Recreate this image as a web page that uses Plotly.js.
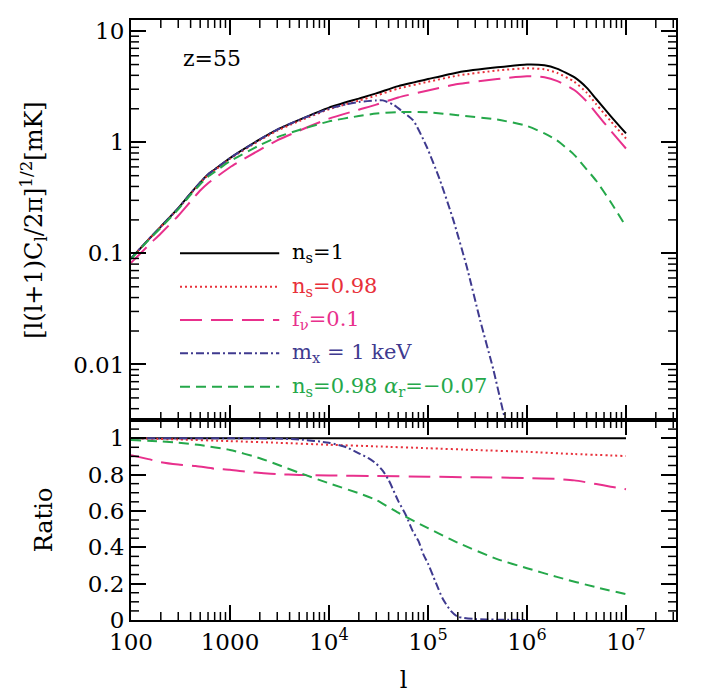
<!DOCTYPE html>
<html><head><meta charset="utf-8">
<script src="https://cdn.plot.ly/plotly-3.0.1.min.js"></script>
<style>html,body{margin:0;padding:0;background:#fff}#plot{width:707px;height:700px}</style>
</head><body><div id="plot"></div>
<script>
// ---- data ----
const lMain = [100,150,200,300,400,500,600,700,1000,2000,3000,5000,1e4,2e4,3e4,5e4,1e5,2e5,5e5,1e6,1.5e6,2e6,3e6,4e6,5e6,7e6,1e7];
const cBlack = [0.09,0.133,0.174,0.255,0.346,0.435,0.513,0.568,0.72,1.06,1.3,1.59,2.05,2.47,2.75,3.2,3.7,4.25,4.72,5.0,4.92,4.6,3.85,3.1,2.45,1.72,1.2];
const cRed   = [0.09,0.133,0.173,0.253,0.342,0.43,0.506,0.56,0.71,1.04,1.27,1.55,1.98,2.37,2.63,3.04,3.5,3.98,4.42,4.63,4.53,4.22,3.5,2.8,2.2,1.55,1.08];
const cPink  = [0.082,0.118,0.151,0.218,0.293,0.368,0.428,0.473,0.595,0.855,1.04,1.27,1.63,1.96,2.18,2.53,2.92,3.34,3.7,3.92,3.84,3.57,2.95,2.33,1.83,1.27,0.877];
const cGreen = [0.089,0.131,0.17,0.249,0.337,0.418,0.49,0.54,0.675,0.94,1.11,1.29,1.54,1.72,1.81,1.87,1.86,1.75,1.6,1.4,1.2,1.04,0.77,0.57,0.45,0.29,0.174];
const lPurple = [100,150,200,300,400,500,600,700,1000,2000,3000,5000,1e4,1.5e4,2e4,3e4,3.5e4,4.5e4,5.6e4,7.1e4,9.7e4,1.32e5,1.8e5,2.46e5,3.35e5,4.57e5,5.77e5,6.5e5];
const cPurple = [0.09,0.133,0.174,0.255,0.346,0.435,0.513,0.568,0.72,1.06,1.3,1.59,2.0,2.2,2.3,2.38,2.38,2.17,1.87,1.57,0.91,0.456,0.2,0.076,0.0253,0.009,0.0037,0.0025];

const lRatioBlack = [100,1e7];
const rBlack = [1,1];
const lRatioRed = [100,300,1000,3000,1e4,3e4,1e5,3e5,1e6,3e6,1e7];
const rRed = [1.0,0.993,0.984,0.975,0.964,0.955,0.945,0.935,0.925,0.913,0.902];
const lRatioPink = [100,150,200,300,450,700,1000,1500,2200,3000,5000,1e4,3e4,1e5,3e5,1e6,2e6,3e6,5e6,7e6,1e7];
const rPink = [0.907,0.885,0.868,0.855,0.847,0.832,0.826,0.815,0.807,0.802,0.798,0.795,0.792,0.788,0.785,0.781,0.776,0.768,0.748,0.733,0.719];
const lRatioGreen = [100,200,300,500,1000,2000,3000,5000,1e4,2e4,3e4,5e4,1e5,2e5,5e5,1e6,2e6,5e6,1e7];
const rGreen = [0.99,0.982,0.975,0.962,0.935,0.89,0.855,0.81,0.752,0.697,0.66,0.59,0.505,0.425,0.335,0.285,0.237,0.18,0.142];
const lRatioPurple = [100,1000,3000,5000,1e4,1.5e4,2e4,2.5e4,3e4,3.5e4,4e4,4.5e4,5e4,6e4,7e4,8e4,9e4,1e5,1.13e5,1.2e5,1.4e5,1.7e5,2e5,3e5,5e5,1e6];
const rPurple = [1.0,1.0,0.998,0.993,0.975,0.95,0.917,0.89,0.86,0.82,0.77,0.71,0.655,0.575,0.49,0.435,0.36,0.31,0.24,0.205,0.12,0.05,0.018,0.005,0.002,0.0];

const names = ['n<sub>s</sub>=1','n<sub>s</sub>=0.98','f<sub>ν</sub>=0.1','m<sub>x</sub> = 1 keV','n<sub>s</sub>=0.98 <i>α</i><sub>r</sub>=−0.07'];
const xTickVals = [100,1000,1e4,1e5,1e6,1e7];
const xTickText = ['100','1000','10<sup>4</sup>','10<sup>5</sup>','10<sup>6</sup>','10<sup>7</sup>'];
const yTickVals = [0.01,0.1,1,10];
const yTickText = ['0.01','0.1','1','10'];
const rTickVals = [0,0.2,0.4,0.6,0.8,1];

// ---- styles ----
const colors = ['#000000','#e8303a','#e8308c','#3f3a8f','#25a84a'];
const dashes = ['solid','2px,3px','22px,9px','8px,3px,2px,3px','10px,6px'];
const FONT = 'DejaVu Serif, serif';

const topSeries = [[lMain,cBlack],[lMain,cRed],[lMain,cPink],[lPurple,cPurple],[lMain,cGreen]];
const botSeries = [[lRatioBlack,rBlack],[lRatioRed,rRed],[lRatioPink,rPink],[lRatioPurple,rPurple],[lRatioGreen,rGreen]];
const traces = [];
topSeries.forEach((d,i)=>traces.push({x:d[0],y:d[1],xaxis:'x2',yaxis:'y2',mode:'lines',name:names[i],showlegend:false,
  line:{color:colors[i],width:2,dash:dashes[i],shape:'spline',smoothing:0.6}}));
botSeries.forEach((d,i)=>traces.push({x:d[0],y:d[1],xaxis:'x',yaxis:'y',mode:'lines',name:names[i],showlegend:false,
  line:{color:colors[i],width:2,dash:dashes[i],shape:'spline',smoothing:0.6}}));

// ---- axis geometry ----
const X_RANGE=[2,7.505], Y2_RANGE=[-2.5,1.1], Y_RANGE=[0,1.1];
const SPLIT=0.3333, PW=545, PH=600;
const xMinor=[]; for(let d=2;d<=7;d++) for(let m=2;m<=9;m++){const v=m*Math.pow(10,d); if(v<3.15e7) xMinor.push(v);}
const yMinor=[]; for(let d=-3;d<=1;d++) for(let m=2;m<=9;m++){const v=m*Math.pow(10,d); if(v>0.0032 && v<12.5) yMinor.push(v);}
const rMinor=[]; for(let k=0;k<=22;k++){ if(k%4!==0) rMinor.push(k*0.05); }

// minor tick marks as paper-referenced shapes (fractions from the axis ranges)
const xFrac = v => (Math.log10(v)-X_RANGE[0])/(X_RANGE[1]-X_RANGE[0]);
const yTopP = v => SPLIT + (1-SPLIT)*(Math.log10(v)-Y2_RANGE[0])/(Y2_RANGE[1]-Y2_RANGE[0]);
const yBotP = v => SPLIT*(v-Y_RANGE[0])/(Y_RANGE[1]-Y_RANGE[0]);
const shapes = [];
function seg(x0,x1,y0,y1,w){ shapes.push({type:'line',xref:'paper',yref:'paper',x0:x0,x1:x1,y0:y0,y1:y1,line:{color:'#000',width:w}}); }
function xTicks(vals,len,w){ const dy=len/PH;
  vals.forEach(v=>{ const f=xFrac(v);
    seg(f,f,0,dy,w); seg(f,f,SPLIT,SPLIT-dy,w); seg(f,f,SPLIT,SPLIT+dy,w); seg(f,f,1,1-dy,w); }); }
function yTicks(vals,fr,len,w){ const dx=len/PW;
  vals.forEach(v=>{ const f=fr(v); seg(0,dx,f,f,w); seg(1,1-dx,f,f,w); }); }
xTicks(xMinor,8,1.5);
yTicks(yMinor,yTopP,8,1.5);
yTicks(rMinor,yBotP,8,1.5);

const TF = {family:FONT,size:23,color:'#000'};
const axCommon = {showgrid:false,zeroline:false,showline:true,linecolor:'#000',linewidth:2,ticks:'inside',
  ticklen:15,tickwidth:2,tickcolor:'#000',mirror:'allticks',tickfont:TF};

// legend drawn as shapes + annotations in paper coordinates
const legRows = [0.6112,0.5555,0.5,0.4445,0.3888];
legRows.forEach((y,i)=>shapes.push({type:'line',xref:'paper',yref:'paper',x0:0.0899,x1:0.272,y0:y,y1:y,
  line:{color:colors[i],width:2,dash:dashes[i]}}));
const annotations = legRows.map((y,i)=>({xref:'paper',yref:'paper',x:0.2917,y:y,xanchor:'left',yanchor:'middle',
  text:names[i],showarrow:false,font:{family:FONT,size:21,color:colors[i]}}));
annotations.push({xref:'paper',yref:'paper',x:0.149,y:0.936,text:'z=55',showarrow:false,xanchor:'center',yanchor:'middle',
  font:{family:FONT,size:22,color:'#000'}});

const layout = {
  width:707,height:700,margin:{l:131,r:31,t:20,b:80},
  font:{family:FONT,color:'#000'},showlegend:false,
  xaxis:Object.assign({},axCommon,{type:'log',range:X_RANGE,anchor:'y',tickmode:'array',tickvals:xTickVals,ticktext:xTickText,
    title:{text:'l',font:{family:FONT,size:24,color:'#000'},standoff:18}}),
  xaxis2:Object.assign({},axCommon,{type:'log',range:X_RANGE,anchor:'y2',showticklabels:false,tickmode:'array',tickvals:xTickVals}),
  yaxis:Object.assign({},axCommon,{domain:[0,SPLIT],range:Y_RANGE,anchor:'x',tickmode:'array',tickvals:rTickVals,
    ticktext:['0','0.2','0.4','0.6','0.8','1'],
    title:{text:'Ratio',font:{family:FONT,size:24,color:'#000'},standoff:28}}),
  yaxis2:Object.assign({},axCommon,{domain:[SPLIT,1],type:'log',range:Y2_RANGE,anchor:'x2',tickmode:'array',tickvals:yTickVals,ticktext:yTickText,
    title:{text:'[l(l+1)C<sub>l</sub>/2π]<sup>1/2</sup>[mK]',font:{family:FONT,size:24,color:'#000'},standoff:24}}),
  shapes:shapes, annotations:annotations
};
Plotly.newPlot('plot',traces,layout,{displayModeBar:false,staticPlot:true});
</script></body></html>
